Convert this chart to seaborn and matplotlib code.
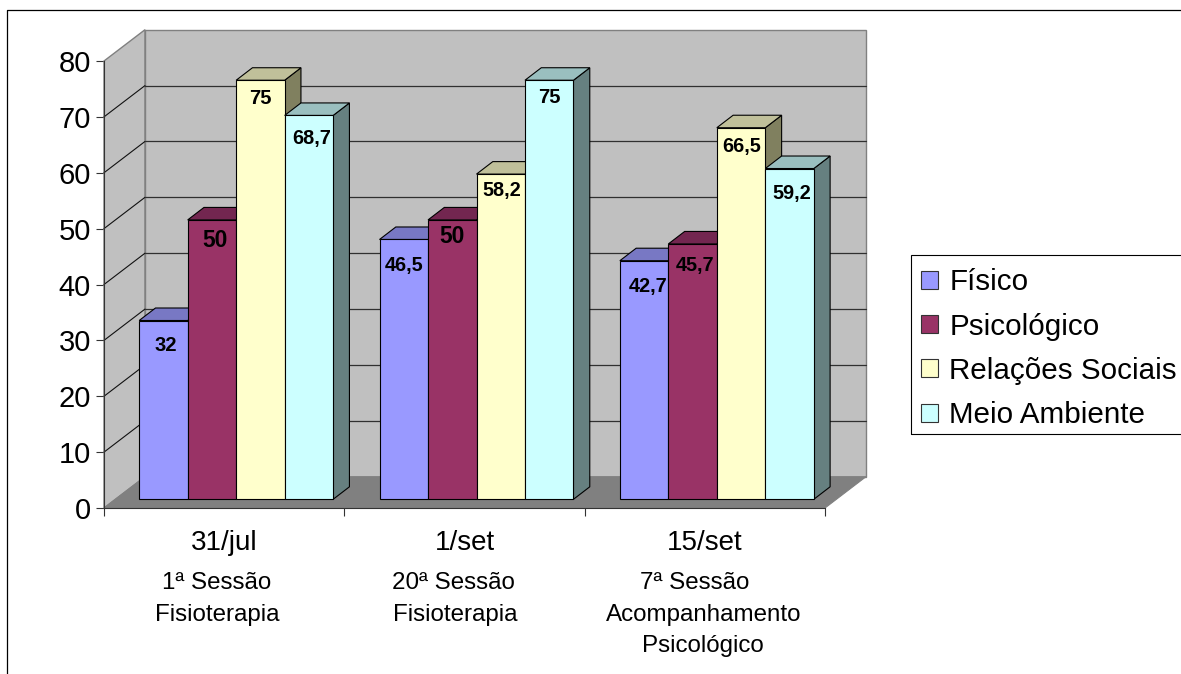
import matplotlib
matplotlib.use("Agg")
import matplotlib.pyplot as plt
from matplotlib.patches import Polygon, Rectangle
from matplotlib.transforms import Affine2D
import pandas as pd
import seaborn as sns

# Quality-of-life domain scores per session
datas = ["31/jul", "1/set", "15/set"]
dominios = ["Físico", "Psicológico", "Relações Sociais", "Meio Ambiente"]
fisico = [32, 46.5, 42.7]
psicologico = [50, 50, 45.7]
relacoes = [75, 58.2, 66.5]
ambiente = [68.7, 75, 59.2]

sessoes = [
    ["1ª Sessão", "Fisioterapia"],
    ["20ª Sessão", "Fisioterapia"],
    ["7ª Sessão", "Acompanhamento", "Psicológico"],
]
sessao_x = [[217, 217], [453, 455], [695, 704, 703]]

# Colours: front face, top face, side face
frente = ["#9999FF", "#993366", "#FFFFCC", "#CCFFFF"]
topo = ["#7878C4", "#732650", "#C0C09A", "#9ABFBF"]
lado = ["#4E4E82", "#4D1A33", "#80805F", "#668080"]

W, H = 1181, 674
PX_X = 721 / 3      # pixels per category
PX_Y = 447 / 80     # pixels per score unit
PAREDE_DX, PAREDE_DY = 41 / PX_X, 31.3 / PX_Y   # depth of the chart box
BASE_DX, BASE_DY = 12 / PX_X, 8.7 / PX_Y        # bars sit inside the box
BARRA_DX, BARRA_DY = 16.3 / PX_X, 12.5 / PX_Y   # depth of each bar

sns.set_theme(style="white")
plt.rcParams["font.family"] = ["Liberation Sans", "DejaVu Sans"]
plt.rcParams["text.color"] = "black"

df = pd.DataFrame({
    "data": datas * 4,
    "dominio": [d for d in dominios for _ in datas],
    "valor": fisico + psicologico + relacoes + ambiente,
})

fig = plt.figure(figsize=(W / 100, H / 100), dpi=100, facecolor="white")
ax = fig.add_axes([104 / W, (H - 508) / H, 721 / W, 447 / H])

sns.barplot(data=df, x="data", y="valor", hue="dominio", hue_order=dominios,
            order=datas, palette=frente, saturation=1, width=0.807, gap=0,
            edgecolor="black", linewidth=0.8, ax=ax, legend=True)
barras = sorted((p for c in ax.containers for p in c), key=lambda p: p.get_x())

ax.set_xlim(-0.5, 2.5)
ax.set_ylim(0, 80)
ax.set_xlabel("")
ax.set_ylabel("")

x0, x1 = -0.5, 2.5
borda = "#808080"

# Chart box: left wall, back wall, floor
ax.add_patch(Polygon([(x0, 0), (x0, 80), (x0 + PAREDE_DX, 80 + PAREDE_DY), (x0 + PAREDE_DX, PAREDE_DY)],
                     facecolor="#C0C0C0", edgecolor=borda, lw=1.0, zorder=1, clip_on=False))
ax.add_patch(Rectangle((x0 + PAREDE_DX, PAREDE_DY), x1 - x0, 80,
                       facecolor="#C0C0C0", edgecolor=borda, lw=1.0, zorder=1, clip_on=False))
ax.add_patch(Polygon([(x0, 0), (x1, 0), (x1 + PAREDE_DX, PAREDE_DY), (x0 + PAREDE_DX, PAREDE_DY)],
                     facecolor="#808080", edgecolor=borda, lw=0.8, zorder=1.2, clip_on=False))

# Gridlines running along the left wall and across the back wall
for v in range(10, 80, 10):
    ax.plot([x0, x0 + PAREDE_DX], [v, v + PAREDE_DY],
            color="#111111", lw=0.8, zorder=1.5, clip_on=False)
    ax.plot([x0 + PAREDE_DX, x1 + PAREDE_DX], [v + PAREDE_DY, v + PAREDE_DY],
            color="#303030", lw=0.9, zorder=1.5, clip_on=False)

# Bars: shift into the box, then add side and top faces, left to right
z = 3
for p, cor_i in zip(barras, [0, 1, 2, 3] * 3):
    xa = p.get_x() + BASE_DX
    xb = xa + p.get_width()
    alt = p.get_height()
    p.set_x(xa)
    p.set_y(BASE_DY)
    p.set_clip_on(False)
    b = BASE_DY
    ax.add_patch(Polygon([(xb, b), (xb + BARRA_DX, b + BARRA_DY), (xb + BARRA_DX, b + alt + BARRA_DY), (xb, b + alt)],
                         facecolor=lado[cor_i], edgecolor="black", lw=0.8, zorder=z, clip_on=False))
    ax.add_patch(Polygon([(xa, b + alt), (xb, b + alt), (xb + BARRA_DX, b + alt + BARRA_DY), (xa + BARRA_DX, b + alt + BARRA_DY)],
                         facecolor=topo[cor_i], edgecolor="black", lw=0.8, zorder=z + 0.1, clip_on=False))
    p.set_zorder(z + 0.2)
    z += 1

# Value labels (offsets in pixels: along x, and down from the bar top)
rotulo_dx = [2, 3, 0, 2.5, 0, 0, 1, 0, 4, 2.5, 1, 2]
rotulo_dy = [25, 21, 18.5, 23, 26, 17, 16, 17, 26, 22, 19, 25]
rotulo_fs = [14.5, 16.5, 14.5, 14.3, 14.3, 16.5, 14.3, 14.5, 14.3, 14.3, 14.3, 14.3]
for p, ddx, ddy, fs in zip(barras, rotulo_dx, rotulo_dy, rotulo_fs):
    v = p.get_height()
    ax.annotate(f"{v:g}".replace(".", ","),
                (p.get_x() + p.get_width() / 2, p.get_y() + v),
                xytext=(ddx * 0.72, -ddy * 0.72), textcoords="offset points",
                ha="center", va="center", fontsize=fs, fontweight="bold",
                color="black", zorder=50, annotation_clip=False)

# Axes
for lado_eixo in ("top", "right"):
    ax.spines[lado_eixo].set_visible(False)
for lado_eixo in ("left", "bottom"):
    ax.spines[lado_eixo].set_visible(True)
    ax.spines[lado_eixo].set_color("#333333")
    ax.spines[lado_eixo].set_linewidth(0.8)
    ax.spines[lado_eixo].set_zorder(40)

ax.set_yticks(range(0, 90, 10))
ax.set_xticks([0, 1, 2])
ax.set_xticklabels(datas)
ax.set_xticks([-0.5, 0.5, 1.5, 2.5], minor=True)
ax.tick_params(axis="y", left=True, length=5.8, width=0.8, color="#333333",
               pad=3.5, labelsize=21, labelcolor="black")
ax.tick_params(axis="x", which="major", bottom=False, pad=10, labelsize=20, labelcolor="black")
ax.tick_params(axis="x", which="minor", bottom=True, length=5.8, width=0.8, color="#333333")

# Session descriptions under each date
for linhas, xs in zip(sessoes, sessao_x):
    for i, (txt, xp) in enumerate(zip(linhas, xs)):
        fig.text(xp / W, 1 - (583 + 31.5 * i) / H, txt, ha="center", va="center",
                 fontsize=17.4, color="black")

# Legend entries, with a box that runs off the right-hand side
sns.move_legend(ax, "upper left", bbox_to_anchor=(910 / W, 1 - 257 / H),
                bbox_transform=fig.transFigure, title=None, frameon=False,
                fontsize=21.3, handlelength=0.55, handleheight=0.55,
                handletextpad=0.4, labelspacing=0.55, borderpad=0.38,
                borderaxespad=0)
for h in ax.get_legend().get_patches():
    h.set_edgecolor("#333333")
    h.set_linewidth(0.8)

pixel = Affine2D().scale(1 / W, 1 / H) + fig.transFigure
fig.add_artist(Rectangle((910.5, H - 433.5), 280, 179, transform=pixel, fill=False,
                         edgecolor="black", lw=0.8))

# Outer frame of the chart area
fig.add_artist(plt.Line2D([6.5, 6.5, W + 5], [-5, H - 9.5, H - 9.5],
                          color="black", lw=0.9, transform=pixel))

fig.savefig("out.png", dpi=100, facecolor="white")
